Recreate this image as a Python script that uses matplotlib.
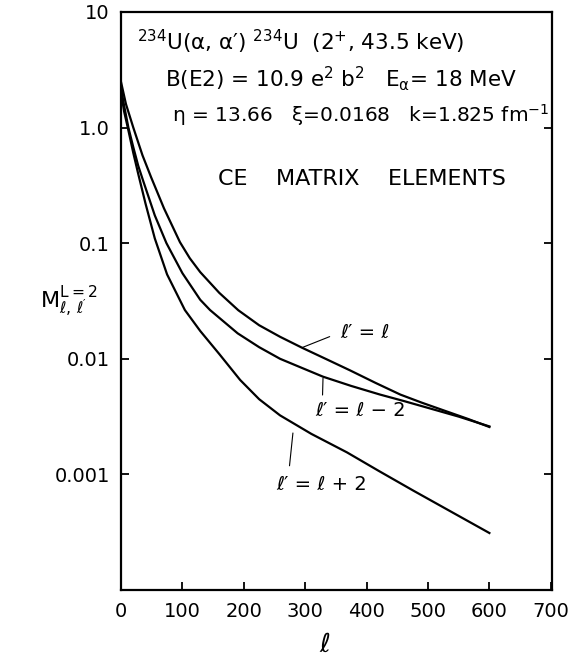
import matplotlib.pyplot as plt
from matplotlib.ticker import FixedLocator, FixedFormatter

plt.rcParams['font.family'] = ['DejaVu Sans']
plt.rcParams['mathtext.default'] = 'regular'

# matrix elements read along l for the three l' branches
l_same = [0, 8, 20, 35, 49, 70, 96, 112, 129, 160, 191, 225, 259, 295, 335,
          373, 415, 455, 490, 530, 565, 600]
m_same = [2.48, 1.60, 1.0, 0.575, 0.372, 0.20, 0.102, 0.0741, 0.0562, 0.0372,
          0.0263, 0.0195, 0.0155, 0.01245, 0.00989, 0.00794, 0.00617, 0.0049,
          0.00417, 0.00351, 0.00302, 0.00257]

l_minus = [0, 5, 12, 20, 28, 36, 55, 74, 100, 129, 145, 170, 190, 225, 259,
           295, 329, 375, 422, 460, 500, 550, 600]
m_minus = [2.20, 1.55, 1.0, 0.676, 0.468, 0.347, 0.174, 0.1, 0.055, 0.0324,
           0.0264, 0.0204, 0.0166, 0.0126, 0.010, 0.00832, 0.0070, 0.00582,
           0.0049, 0.00432, 0.00376, 0.00316, 0.0026]

l_plus = [0, 5, 11, 20, 28, 40, 55, 75, 104, 129, 160, 194, 225, 259, 310,
          368, 420, 476, 540, 600]
m_plus = [2.03, 1.38, 1.0, 0.603, 0.398, 0.219, 0.110, 0.0537, 0.0264, 0.0174,
          0.011, 0.00656, 0.00447, 0.00324, 0.00224, 0.00155, 0.00107,
          0.000724, 0.000468, 0.000311]

y_ticks = [10, 1.0, 0.1, 0.01, 0.001]
y_labels = ['10', '1.0', '0.1', '0.01', '0.001']
x_ticks = [0, 100, 200, 300, 400, 500, 600, 700]

fig = plt.figure(figsize=(5.81, 6.62), dpi=100)
ax = fig.add_axes([0.2083, 0.1088, 0.7418, 0.8731])

for xs, ys in [(l_same, m_same), (l_minus, m_minus), (l_plus, m_plus)]:
    ax.plot(xs, ys, color='black', lw=1.6, solid_joinstyle='round')

ax.set_yscale('log')
ax.set_xlim(0, 702)
ax.set_ylim(1e-4, 10)
ax.yaxis.set_major_locator(FixedLocator(y_ticks))
ax.yaxis.set_major_formatter(FixedFormatter(y_labels))
ax.yaxis.set_minor_locator(FixedLocator([]))
ax.set_xticks(x_ticks)
ax.tick_params(direction='in', length=6, width=1.3, labelsize=14, pad=8,
               right=True, top=False)
ax.tick_params(axis='x', pad=9)
for s in ax.spines.values():
    s.set_linewidth(1.6)

# branch labels with leader lines
lead = dict(arrowstyle='-', lw=0.8, color='black', shrinkB=0)
ax.annotate("ℓ′ = ℓ", xy=(295, 0.0125), xytext=(357, 0.0169),
            fontsize=14, ha='left', va='center',
            arrowprops=dict(lead, relpos=(0, 0.5), shrinkA=6))
ax.annotate("ℓ′ = ℓ − 2", xy=(329, 0.0068), xytext=(390, 0.0036),
            fontsize=14, ha='center', va='center',
            arrowprops=dict(lead, relpos=(0.08, 1.0), shrinkA=2))
ax.annotate("ℓ′ = ℓ + 2", xy=(280, 0.00228), xytext=(326, 0.00081),
            fontsize=14, ha='center', va='center',
            arrowprops=dict(lead, relpos=(0.14, 1.0), shrinkA=5))

W, H = 581, 662
def put(px, py, s, size):
    fig.text(px / W, 1 - py / H, s, fontsize=size, ha='left', va='baseline')

put(137, 50, r"$^{234}$U(α, α′) $^{234}$U  (2$^{+}$, 43.5 keV)", 15.5)
put(165, 87, r"B(E2) = 10.9 e$^{2}$ b$^{2}$   E$_{α}$= 18 MeV", 15.5)
put(172, 122, r"η = 13.66   ξ=0.0168   k=1.825 fm$^{-1}$", 14.5)
put(218, 185, "CE    MATRIX    ELEMENTS", 16)

fig.text(40 / W, 1 - 308 / H, r"$M^{L=2}_{\ell,\,\ell'}$", fontsize=16,
         ha='left', va='baseline')
fig.text(325 / W, 1 - 652 / H, "ℓ", fontsize=19, ha='center', va='baseline',
         style='italic')

fig.savefig('out.png', dpi=100)
